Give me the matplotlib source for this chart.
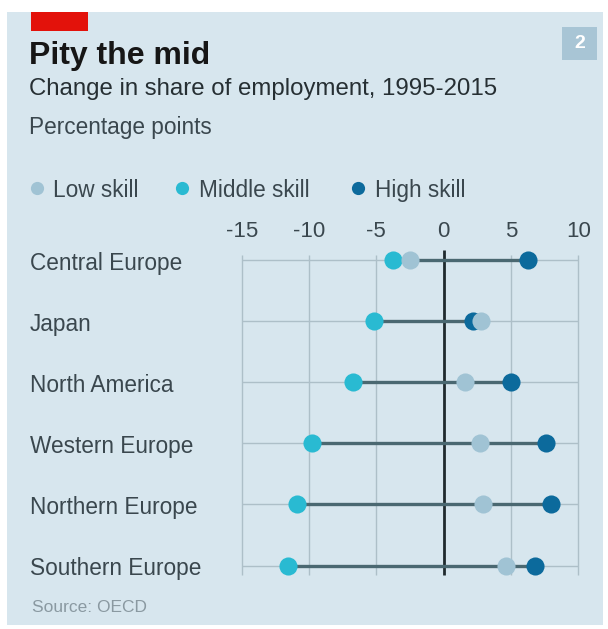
import matplotlib
matplotlib.use("Agg")
import matplotlib.pyplot as plt
from matplotlib.patches import Rectangle
from matplotlib.transforms import blended_transform_factory

# ---- data ----
regions = ["Central Europe", "Japan", "North America",
           "Western Europe", "Northern Europe", "Southern Europe"]
low_skill = [-2.5, 2.8, 1.6, 2.7, 2.9, 4.6]
middle_skill = [-3.8, -5.2, -6.7, -9.8, -10.9, -11.6]
high_skill = [6.3, 2.2, 5.0, 7.6, 7.95, 6.8]
xticks = [-15, -10, -5, 0, 5, 10]
legend_labels = ["Low skill", "Middle skill", "High skill"]

# ---- style ----
W, H = 608, 629
BG = "#d7e6ee"
C_LOW = "#a0c3d4"
C_MID = "#29bad2"
C_HIGH = "#0c6a9c"
C_LINE = "#4a6871"
C_GRID = "#adbfc8"
C_TEXT = "#3a474e"
FONT = ["Liberation Sans", "DejaVu Sans"]
plt.rcParams["font.family"] = FONT


def fx(x):
    return x / W


def fy(y):
    return 1 - y / H


fig = plt.figure(figsize=(W / 100, H / 100), dpi=100, facecolor="white")

# panel background
fig.add_artist(Rectangle((fx(7), fy(625)), fx(603) - fx(7), fy(12) - fy(625),
                         transform=fig.transFigure, facecolor=BG,
                         edgecolor="none", zorder=-10))
# red tag
fig.add_artist(Rectangle((fx(31), fy(31)), fx(88) - fx(31), fy(12) - fy(31),
                         transform=fig.transFigure, facecolor="#e3120b",
                         edgecolor="none"))
# number box
fig.add_artist(Rectangle((fx(562), fy(60)), fx(597) - fx(562), fy(27) - fy(60),
                         transform=fig.transFigure, facecolor="#a8c5d5",
                         edgecolor="none"))
fig.text(fx(579.5), fy(44), "2", color="white", fontsize=14, fontweight="bold",
         ha="center", va="center")

# titles
fig.text(fx(29), fy(64), "Pity the mid", fontsize=23, fontweight="bold",
         color="#161616", va="baseline", ha="left")
fig.text(fx(29), fy(95), "Change in share of employment, 1995-2015",
         fontsize=17.3, color="#262f33", va="baseline", ha="left")
fig.text(fx(29), fy(134), "Percentage points", fontsize=16.3,
         color=C_TEXT, va="baseline", ha="left")

# legend
leg_dots = [37, 182, 358]
leg_text = [53, 199, 375]
leg_cols = [C_LOW, C_MID, C_HIGH]
for dx, tx, lab, col in zip(leg_dots, leg_text, legend_labels, leg_cols):
    fig.add_artist(plt.Line2D([fx(dx)], [fy(188)], marker="o", markersize=9.5,
                              color=col, markeredgewidth=0,
                              transform=fig.transFigure))
    fig.text(fx(tx), fy(197), lab, fontsize=16.3, color=C_TEXT,
             va="baseline", ha="left")

# axes
ax_left, ax_right, ax_top, ax_bot = 235, 585, 250, 580
ax = fig.add_axes([fx(ax_left), fy(ax_bot), fx(ax_right) - fx(ax_left),
                   fy(ax_top) - fy(ax_bot)])
ax.set_facecolor("none")
row_px = 61.1
ax.set_xlim(-15.5, 10.5)
ax.set_ylim((ax_bot - 260) / row_px, (ax_top - 260) / row_px)
for s in ax.spines.values():
    s.set_visible(False)

n = len(regions)
ypos = list(range(n))
ybot = (575 - 260) / row_px
ytop_grid = (255 - 260) / row_px

# gridlines
ax.vlines([t for t in xticks if t != 0], ytop_grid, ybot, color=C_GRID,
          lw=1, zorder=1)
ax.hlines(ypos, xticks[0], xticks[-1], color=C_GRID, lw=1, zorder=1)
ax.vlines([0], (250 - 260) / row_px, ybot, color="#1f2a2e", lw=2, zorder=2)

# dumbbell lines
for i in range(n):
    vals = [low_skill[i], middle_skill[i], high_skill[i]]
    ax.hlines(i, min(vals), max(vals), color=C_LINE, lw=2.4, zorder=3)

ax.scatter(middle_skill, ypos, s=170, color=C_MID, zorder=4, linewidths=0)
ax.scatter(high_skill, ypos, s=170, color=C_HIGH, zorder=5, linewidths=0)
ax.scatter(low_skill, ypos, s=170, color=C_LOW, zorder=6, linewidths=0)

ax.set_xticks(xticks)
ax.set_xticklabels([str(t) for t in xticks])
ax.xaxis.tick_top()
ax.tick_params(axis="x", length=0, pad=6, labelsize=16, labelcolor=C_TEXT)
ax.set_yticks([])

# category labels
trans = blended_transform_factory(fig.transFigure, ax.transData)
for i, r in enumerate(regions):
    ax.text(fx(30), i + 10 / row_px, r, transform=trans, fontsize=16.3,
            color=C_TEXT, va="baseline", ha="left")

fig.text(fx(32), fy(612), "Source: OECD", fontsize=12.5, color="#8a99a1",
         va="baseline", ha="left")

fig.savefig("out.png", dpi=100, facecolor="white")
